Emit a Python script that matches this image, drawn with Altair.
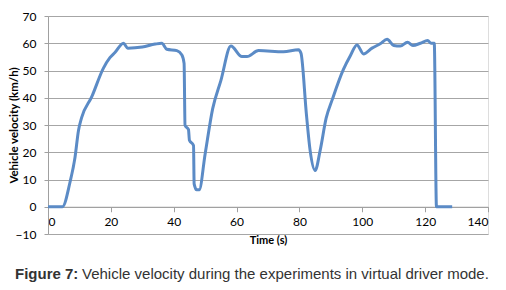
import altair as alt
import pandas as pd

time_s = [0, 4.6, 7.0, 8.6, 9.7, 10.7, 13.9, 17.6, 19.7, 21.3, 24.0, 25.4, 30.0, 34.1,
          36.2, 37.8, 41.0, 42.6, 43.3, 43.6, 44.7, 45.0, 46.3, 46.5, 47.3, 48.1, 50.0,
          52.4, 55.0, 58.2, 61.7, 63.3, 67.0, 74.9, 79.7, 80.5, 82.2, 83.4, 85.0, 86.6,
          88.5, 90.5, 94.0, 96.2, 98.3, 100.4, 103.1, 105.7, 107.9, 110.0, 112.1, 114.4,
          116.1, 118.5, 120.8, 121.9, 122.9, 123.6, 128.6]
velocity = [0, 0, 9, 18.2, 28, 32.7, 40.3, 50.8, 54.7, 56.6, 60, 58.2, 58.6, 59.7,
            60, 57.8, 57.3, 55.7, 52.6, 29.9, 28.3, 24.4, 22.5, 8.4, 6.2, 6.2, 19.4,
            36, 46.3, 59.0, 55.1, 55.1, 57.3, 56.9, 57.6, 56.3, 34.2, 20.7, 13.3, 20.7,
            32.5, 39.5, 50.4, 55.4, 59.4, 56.1, 58.2, 59.8, 61.5, 59.2, 59.0, 60.4,
            59.2, 60.0, 61.0, 60.0, 60.0, 0, 0]
x_ticks = [0, 20, 40, 60, 80, 100, 120, 140]
y_ticks = [-10, 0, 10, 20, 30, 40, 50, 60, 70]

df = pd.DataFrame({"t": time_s, "v": velocity})

W, H = 440, 218

line = alt.Chart(df).mark_line(
    color="#5b8bc6", strokeWidth=3, interpolate="monotone"
).encode(
    x=alt.X("t:Q", scale=alt.Scale(domain=[0, 140], nice=False),
            axis=alt.Axis(values=x_ticks, title="Time (s)", grid=False,
                          offset=-H * 10 / 80, domainColor="#a0a0a0", tickColor="#a0a0a0",
                          tickSize=5, labelPadding=5, labelFont="Lato", labelFontSize=12,
                          labelColor="#000000", titleFont="Lato", titleFontSize=11,
                          titleFontWeight="bold", titleColor="#000000", titlePadding=7)),
    y=alt.Y("v:Q", scale=alt.Scale(domain=[-10, 70], nice=False),
            axis=alt.Axis(values=y_ticks, title="Vehicle velocity (km/h)",
                          gridColor="#a6a6a6", domainColor="#a0a0a0", tickColor="#a0a0a0",
                          tickSize=4, labelPadding=8, labelFont="Lato", labelFontSize=12,
                          labelColor="#000000", titleFont="Lato", titleFontSize=11.5,
                          titleFontWeight="bold", titleColor="#000000",
                          titleX=-34, titleY=H / 2, titleBaseline="middle",
                          titleAlign="center", titleAngle=270)),
)

cap_bold = alt.Chart(pd.DataFrame({"s": ["Figure 7:"]})).mark_text(
    align="left", baseline="middle", font="Liberation Sans", fontSize=15,
    fontWeight="bold", color="#333333"
).encode(text="s:N", x=alt.value(-33), y=alt.value(258))

cap_text = alt.Chart(pd.DataFrame({"s": ["Vehicle velocity during the experiments in virtual driver mode."]})).mark_text(
    align="left", baseline="middle", font="Liberation Sans", fontSize=15,
    color="#333333"
).encode(text="s:N", x=alt.value(34), y=alt.value(258))

chart = alt.layer(line, cap_bold, cap_text).properties(
    width=W, height=H,
    autosize=alt.AutoSizeParams(type="none"),
    padding={"left": 40, "top": 8, "right": 10, "bottom": 48},
).configure_view(stroke=None).configure(background="#ffffff")

chart.save("out.html", embed_options={"renderer": "svg", "actions": False})
